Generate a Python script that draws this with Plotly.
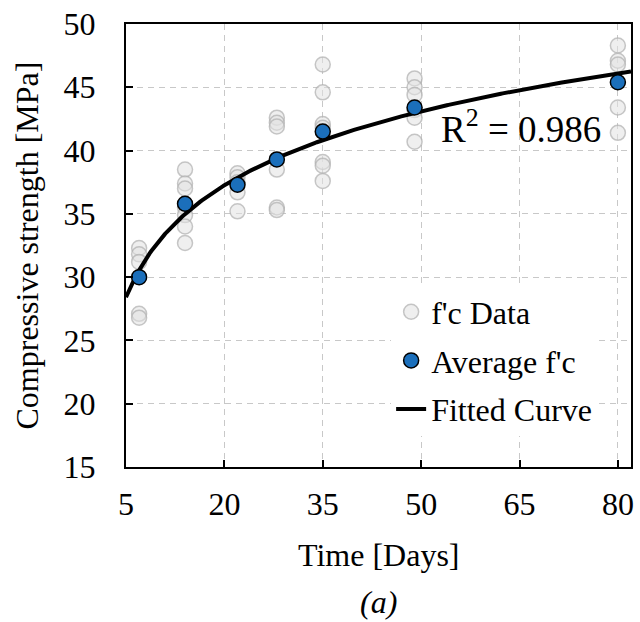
import numpy as np
import plotly.graph_objects as go

# ---- data ----
days = [7, 14, 22, 28, 35, 49, 80]
avg_fc = [30.0, 35.8, 37.3, 39.3, 41.5, 43.4, 45.4]

raw_days = ([7] * 5 + [14] * 7 + [22] * 5 + [28] * 6 + [35] * 7 + [49] * 6 + [80] * 5)
raw_fc = [32.3, 31.8, 31.2, 27.1, 26.8,
          38.5, 37.4, 37.0, 35.5, 34.9, 34.0, 32.7,
          38.2, 37.9, 37.5, 36.7, 35.2,
          42.6, 42.2, 41.9, 38.5, 35.5, 35.3,
          46.8, 44.6, 42.1, 41.8, 39.1, 38.8, 37.6,
          45.7, 45.0, 44.4, 43.2, 42.6, 40.7,
          48.3, 47.1, 46.8, 43.4, 41.4]

x_ticks = [5, 20, 35, 50, 65, 80]
y_ticks = [15, 20, 25, 30, 35, 40, 45, 50]
r2_text = "R<sup>2</sup> = 0.986"

# logarithmic fit through averages
b, a = np.polyfit(np.log(days), avg_fc, 1)
xf = np.linspace(5, 82, 300)
yf = a + b * np.log(xf)

FONT = "Liberation Serif, Times New Roman, serif"

fig = go.Figure()
fig.add_trace(go.Scatter(
    x=raw_days, y=raw_fc, mode="markers", name="f'c Data",
    marker=dict(size=15, color="rgba(225,225,225,0.55)",
                line=dict(color="rgba(175,175,175,0.7)", width=1.5)),
    legendgroup="a", legendrank=1))
fig.add_trace(go.Scatter(
    x=xf, y=yf, mode="lines", name="Fitted Curve",
    line=dict(color="black", width=4), legendgroup="c", legendrank=3))
fig.add_trace(go.Scatter(
    x=days, y=avg_fc, mode="markers", name="Average f'c",
    marker=dict(size=15, color="#1b6fbb", line=dict(color="black", width=1.5)),
    legendgroup="b", legendrank=2))

axis_common = dict(
    showline=True, linecolor="black", linewidth=2, mirror=True,
    ticks="inside", ticklen=7, tickwidth=1.5, tickcolor="black",
    showgrid=True, gridcolor="#c8c8c8", griddash="6px,5px", gridwidth=1,
    zeroline=False, tickfont=dict(family=FONT, size=32, color="black"),
)

fig.update_layout(
    width=640, height=622,
    margin=dict(l=126, r=6, t=24, b=155),
    plot_bgcolor="white", paper_bgcolor="white",
    font=dict(family=FONT, color="black"),
    xaxis=dict(range=[5, 82], tickvals=x_ticks, ticklabelstandoff=8, **axis_common),
    yaxis=dict(range=[15, 50], tickvals=y_ticks, ticklabelstandoff=22, **axis_common),
    showlegend=True,
    legend=dict(x=0.525, y=0.412, xanchor="left", yanchor="top",
                bgcolor="white", borderwidth=0, tracegroupgap=4,
                font=dict(family=FONT, size=32, color="black")),
    annotations=[
        dict(x=65.3, y=41.9, xref="x", yref="y", text=r2_text, showarrow=False,
             font=dict(family=FONT, size=37, color="black")),
        dict(x=0.5, y=0, xref="paper", yref="paper", text="Time [Days]",
             showarrow=False, yanchor="middle", yshift=-88,
             font=dict(family=FONT, size=32)),
        dict(x=0.5, y=0, xref="paper", yref="paper", text="<i>(a)</i>",
             showarrow=False, yanchor="middle", yshift=-135,
             font=dict(family=FONT, size=32)),
        dict(x=0, y=0.5, xref="paper", yref="paper", text="Compressive strength [MPa]",
             showarrow=False, textangle=-90, xanchor="center", yanchor="middle",
             xshift=-100, font=dict(family=FONT, size=32)),
    ],
)

fig.write_html("out.html")
